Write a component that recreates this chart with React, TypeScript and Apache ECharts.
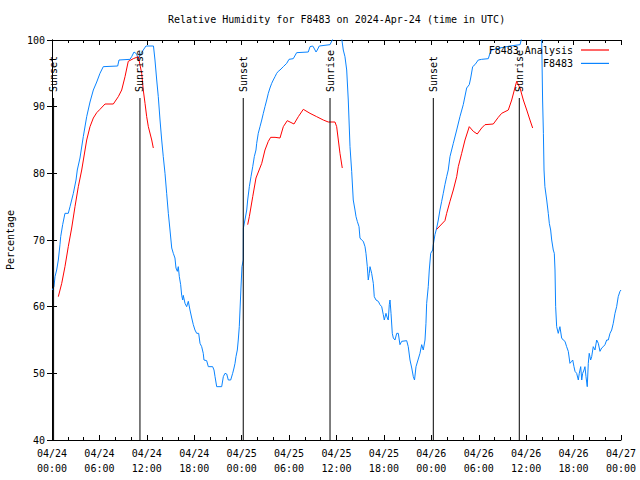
import React, { useEffect, useRef } from "react";
import * as echarts from "echarts";

const FONT = "'DejaVu Sans Mono', monospace";
const FS = 10;

const titleText = "Relative Humidity for F8483 on 2024-Apr-24 (time in UTC)";
const yAxisName = "Percentage";
const seriesObsName = "F8483";
const seriesAnaName = "F8483 Analysis";

// x ticks every 6 hours from 04/24 00:00 (hours since start)
const xTickLabels = [
  "04/24\n00:00", "04/24\n06:00", "04/24\n12:00", "04/24\n18:00",
  "04/25\n00:00", "04/25\n06:00", "04/25\n12:00", "04/25\n18:00",
  "04/26\n00:00", "04/26\n06:00", "04/26\n12:00", "04/26\n18:00",
  "04/27\n00:00",
];

// Sunrise / sunset events (hours since 04/24 00:00)
const sunHours = [0.2, 11.13, 24.2, 35.18, 48.25, 59.13];
const sunLabels = ["Sunset", "Sunrise", "Sunset", "Sunrise", "Sunset", "Sunrise"];
const sunLineTop = 91.3;

// Observed humidity [hour, %]
const obsHumidity = [
  [0.05,62.5],[0.25,63],[0.38,64.5],[0.59,65.5],[0.80,67],[1.01,69.3],[1.10,70.5],[1.35,72.3],[1.64,74],[2.06,74],[2.28,75],[2.70,77],[3.04,79],[3.20,80.5],[3.54,82.3],[3.96,85.5],[4.39,88.5],[4.81,90.7],[5.23,92.5],[5.66,93.7],[6.07,95],[6.49,96],[8.31,96.1],[8.48,97],[9.87,97.1],[10.08,97.5],[10.38,98.2],[10.72,97.9],[10.92,97],[11.13,97.7],[11.55,98.5],[11.89,99.1],[12.84,99.1],[13.03,97],[13.25,94],[13.45,91.5],[13.67,88],[13.88,85],[14.08,82.5],[14.30,80],[14.51,77],[14.72,74],[14.93,71.5],[15.15,68.8],[15.35,68],[15.56,67.3],[15.69,65.8],[15.86,65.3],[15.98,66],[16.11,64.5],[16.28,63.3],[16.41,61.7],[16.54,61],[16.61,61.7],[16.83,60.5],[17.04,60],[17.25,60.8],[17.46,59.5],[17.68,58.3],[17.88,57.3],[18.09,56.5],[18.31,56],[18.56,56],[18.73,54.5],[18.94,54],[19.14,53],[19.23,52],[19.57,51.9],[19.78,51],[20.33,51],[20.50,50.5],[20.63,49.5],[20.84,48],[21.47,48],[21.68,49.5],[21.89,50],[22.11,49.9],[22.31,49],[22.61,49],[22.86,50],[23.03,50.8],[23.16,51.5],[23.28,52.5],[23.45,53.5],[23.57,55],[23.70,57],[23.79,59.5],[23.91,62.8],[24.04,66],[24.20,67],[24.22,71.8],[24.46,73.3],[24.64,74.5],[24.76,76],[24.97,78],[25.18,79.5],[25.40,81],[25.60,82.5],[25.81,83.5],[25.90,84.5],[26.10,86],[26.32,87],[26.54,88],[26.74,89],[26.95,90],[27.17,91],[27.37,92],[27.58,92.8],[27.80,93.5],[28.00,94],[28.22,94.5],[28.43,95],[28.63,95.3],[28.85,95.5],[29.27,96],[29.70,96.5],[29.99,97.1],[30.53,97.2],[30.96,98.1],[32.43,98.2],[32.65,99],[32.99,99.1],[33.15,98.8],[33.41,98.2],[33.57,98.5],[33.82,99.1],[35.18,99.3],[35.59,100.3],[36.06,100.8],[36.66,100.2],[36.86,98.5],[37.07,97.5],[37.29,95.5],[37.49,91],[37.71,84],[37.92,80.3],[38.12,76],[38.34,74.5],[38.47,73.5],[38.63,72.8],[38.85,72],[38.97,70.3],[39.18,70],[39.39,69.8],[39.61,69],[39.73,68],[39.90,66],[40.02,64],[40.15,65],[40.24,66],[40.45,65],[40.66,63.5],[40.78,61.5],[41.00,61],[41.29,60.8],[41.50,60.3],[41.72,60],[41.92,58.8],[42.05,58],[42.26,59],[42.43,58.3],[42.55,58],[42.68,60.3],[42.77,61],[42.90,59],[43.06,56],[43.19,55.3],[43.40,55],[43.62,56],[43.82,56],[44.03,54.3],[44.25,54.8],[44.88,54.9],[45.08,54],[45.30,52],[45.52,50.8],[45.72,49.5],[45.87,49],[46.06,51],[46.31,52],[46.56,53],[46.78,54.3],[46.98,53.5],[47.20,55],[47.32,57.5],[47.41,60.5],[47.61,63],[47.74,65.5],[47.92,68],[48.17,68.5],[48.25,69.3],[48.46,70.8],[48.68,71.8],[48.88,73],[49.09,74.5],[49.31,75.8],[49.51,77],[49.72,78.3],[49.94,79.5],[50.14,80.5],[50.36,82.5],[50.78,84.5],[51.21,86.5],[51.62,88.5],[52.04,90.3],[52.47,92.8],[52.80,93.3],[52.98,94.3],[53.23,96],[53.52,96.3],[53.94,97],[54.37,97.1],[55.21,97.2],[55.42,98],[55.63,98.5],[56.69,98.8],[57.95,99.1],[59.23,99.3],[59.43,100.3],[60.48,101],[61.96,100.5],[62.08,91],[62.18,86],[62.26,80.5],[62.37,78],[62.60,76],[62.80,74],[62.93,72.5],[63.10,71.5],[63.23,70],[63.43,68.5],[63.56,68],[63.65,65.5],[63.73,60],[63.86,57],[64.06,56],[64.27,57],[64.49,55.3],[64.69,55],[64.91,54.8],[65.12,54],[65.33,53.3],[65.54,51.5],[65.76,51.8],[65.89,52],[66.05,51],[66.18,50.3],[66.39,50],[66.60,49],[66.72,50],[66.90,51],[67.03,49],[67.15,50],[67.32,50.5],[67.44,51],[67.57,49.5],[67.73,48],[67.86,51.5],[67.98,53],[68.16,52],[68.29,52.5],[68.49,54],[68.71,53.5],[68.92,55],[69.13,54.5],[69.34,53.3],[69.55,53.8],[69.76,54],[69.97,54.3],[70.19,55],[70.39,55],[70.61,56],[70.82,56.5],[71.02,57.5],[71.24,59],[71.45,60],[71.65,61.5],[71.87,62.3],[72,62.5],
];

// Analysis humidity, one segment per night [hour, %]
const analysisNight1 = [
  [0.8,61.5],[1.23,63.5],[1.64,66],[2.06,69],[2.49,71.8],[2.91,75],[3.33,78],[3.76,80.5],[4.39,85],[4.81,87],[5.23,88.3],[5.66,89.1],[6.07,89.6],[6.71,90.4],[7.76,90.4],[8.39,91.5],[8.82,92.5],[9.24,94.5],[9.65,96.8],[10.29,97.2],[10.92,97.5],[11.35,95],[11.55,92.5],[11.77,90.5],[11.98,88.5],[12.19,87],[12.62,85],[12.82,83.8],
];
const analysisNight2 = [
  [24.76,72.3],[24.97,73.5],[25.40,76.5],[25.81,79.3],[26.54,81.5],[26.95,83.5],[27.37,84.8],[27.67,85.4],[28.22,85.4],[28.85,85.3],[29.27,87],[29.77,87.9],[30.62,87.4],[31.17,88.5],[31.80,89.6],[32.65,89],[33.49,88.5],[34.33,88],[34.96,87.7],[35.81,87.7],[36.02,87],[36.23,85],[36.44,83],[36.73,80.8],
];
const analysisNight3 = [
  [48.68,71.6],[49.72,72.9],[49.94,74],[50.36,75.8],[50.78,77.5],[51.21,79.5],[51.41,81],[51.84,83],[52.26,85],[52.80,87],[53.31,86.3],[53.81,85.9],[54.37,86.8],[54.79,87.3],[55.84,87.4],[56.47,88.4],[56.90,89],[57.74,89.5],[58.17,91],[58.50,92.5],[58.80,93.8],[59.22,92.8],[59.64,91],[60.07,89.5],[60.48,88],[60.82,86.8],
];

const RED = "#ff0000";
const BLUE = "#0a84ff";

export default function App() {
  const ref = useRef<HTMLDivElement>(null);
  useEffect(() => {
    if (!ref.current) return;
    const chart = echarts.init(ref.current, undefined, { renderer: "svg" });
    const txt = { color: "#000", fontFamily: FONT, fontSize: FS };
    const axisCommon = {
      axisLine: { show: true, lineStyle: { color: "#000", width: 1 } },
      axisTick: { show: true, inside: true, length: 5, lineStyle: { color: "#000" } },
      splitLine: { show: false },
    };
    const analysisSeries = [analysisNight1, analysisNight2, analysisNight3].map((d) => ({
      name: seriesAnaName,
      type: "line",
      data: d,
      symbol: "none",
      lineStyle: { color: RED, width: 1 },
      itemStyle: { color: RED },
      z: 3,
    }));
    chart.setOption({
      animation: false,
      backgroundColor: "#fff",
      textStyle: txt,
      title: {
        text: titleText,
        left: 168,
        top: 14,
        padding: 0,
        textStyle: { ...txt, fontWeight: "normal" },
      },
      legend: {
        data: [seriesAnaName, seriesObsName],
        orient: "vertical",
        align: "right",
        right: 31,
        top: 44,
        icon: "rect",
        itemWidth: 28,
        itemHeight: 1.2,
        itemGap: 1.4,
        padding: 0,
        textStyle: { ...txt, lineHeight: 12, height: 12, padding: [0, 3, 0, 0] },
      },
      grid: { left: 52, right: 19, top: 40, bottom: 40, outerBoundsMode: "none", containLabel: false },
      xAxis: [
        {
          type: "value",
          min: 0,
          max: 72,
          interval: 6,
          ...axisCommon,
          minorTick: { show: true, splitNumber: 3, length: 3, lineStyle: { color: "#000" } },
          axisLabel: {
            ...txt,
            margin: 6,
            lineHeight: 15,
            formatter: (v: number) => xTickLabels[Math.round(v / 6)] ?? "",
          },
        },
        {
          type: "value",
          position: "top",
          min: 0,
          max: 72,
          interval: 6,
          ...axisCommon,
          minorTick: { show: true, splitNumber: 3, length: 3, lineStyle: { color: "#000" } },
          axisLabel: { show: false },
        },
      ],
      yAxis: [
        {
          type: "value",
          min: 40,
          max: 100,
          interval: 10,
          ...axisCommon,
          axisLabel: { ...txt, margin: 7 },
          name: yAxisName,
          nameLocation: "middle",
          nameRotate: 90,
          nameGap: 37,
          nameTextStyle: txt,
        },
        {
          type: "value",
          position: "right",
          min: 40,
          max: 100,
          interval: 10,
          ...axisCommon,
          axisLabel: { show: false },
        },
      ],
      series: [
        {
          name: seriesObsName,
          type: "line",
          data: obsHumidity,
          symbol: "none",
          lineStyle: { color: BLUE, width: 1 },
          itemStyle: { color: BLUE },
          z: 2,
        },
        ...analysisSeries,
        {
          name: "sun",
          type: "custom",
          data: sunHours.map((h) => [h, sunLineTop]),
          encode: { x: 0, y: 1 },
          z: 4,
          silent: true,
          renderItem: (params: any, api: any) => {
            const h = api.value(0);
            const top = api.coord([h, api.value(1)]);
            const bot = api.coord([h, 40]);
            return {
              type: "group",
              children: [
                {
                  type: "line",
                  shape: { x1: top[0], y1: top[1], x2: bot[0], y2: bot[1] },
                  style: { stroke: "#000", lineWidth: 1 },
                },
                {
                  type: "text",
                  x: top[0],
                  y: top[1] - 6,
                  rotation: Math.PI / 2,
                  style: {
                    text: sunLabels[params.dataIndex],
                    align: "left",
                    verticalAlign: "middle",
                    fill: "#000",
                    font: `${FS}px ${FONT}`,
                  },
                },
              ],
            };
          },
        },
      ],
    });
    return () => chart.dispose();
  }, []);
  return (
    <div
      ref={ref}
      style={{ position: "fixed", left: 0, top: 0, width: 640, height: 480, background: "#fff" }}
    />
  );
}
